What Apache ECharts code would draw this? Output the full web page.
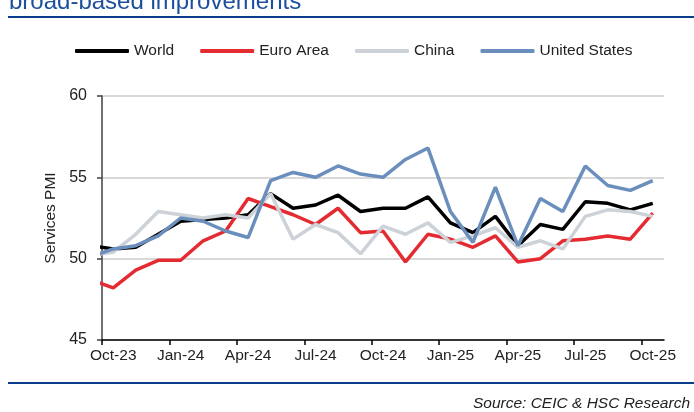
<!DOCTYPE html>
<html>
<head>
<meta charset="utf-8">
<script src="https://cdn.jsdelivr.net/npm/echarts@6/dist/echarts.min.js"></script>
<style>
  html, body { margin: 0; padding: 0; background: #fff; }
  #chart { width: 694px; height: 412px; }
</style>
</head>
<body>
<div id="chart"></div>
<script>
// monthly, Sep-23 is only partly visible (clipped at the axis start)
var months = ['Sep-23', 'Oct-23', 'Nov-23', 'Dec-23', 'Jan-24', 'Feb-24', 'Mar-24', 'Apr-24', 'May-24',
  'Jun-24', 'Jul-24', 'Aug-24', 'Sep-24', 'Oct-24', 'Nov-24', 'Dec-24', 'Jan-25', 'Feb-25', 'Mar-25',
  'Apr-25', 'May-25', 'Jun-25', 'Jul-25', 'Aug-25', 'Sep-25', 'Oct-25'];
var world = [50.8, 50.6, 50.7, 51.5, 52.3, 52.4, 52.5, 52.7, 54.0, 53.1, 53.3, 53.9, 52.9, 53.1, 53.1, 53.8, 52.2, 51.6, 52.6, 50.8, 52.1, 51.8, 53.5, 53.4, 53.0, 53.4];
var euroArea = [48.7, 48.2, 49.3, 49.9, 49.9, 51.1, 51.7, 53.7, 53.2, 52.7, 52.1, 53.1, 51.6, 51.7, 49.8, 51.5, 51.2, 50.7, 51.4, 49.8, 50.0, 51.1, 51.2, 51.4, 51.2, 52.8];
var china = [50.2, 50.4, 51.5, 52.9, 52.7, 52.5, 52.7, 52.5, 54.0, 51.2, 52.1, 51.6, 50.3, 52.0, 51.5, 52.2, 51.0, 51.4, 51.9, 50.7, 51.1, 50.6, 52.6, 53.0, 52.9, 52.6];
var unitedStates = [50.1, 50.6, 50.8, 51.4, 52.5, 52.3, 51.7, 51.3, 54.8, 55.3, 55.0, 55.7, 55.2, 55.0, 56.1, 56.8, 52.9, 51.0, 54.4, 50.8, 53.7, 52.9, 55.7, 54.5, 54.2, 54.8];
var tickLabels = ['Oct-23', 'Jan-24', 'Apr-24', 'Jul-24', 'Oct-24', 'Jan-25', 'Apr-25', 'Jul-25', 'Oct-25'];

var FONT = '"Liberation Sans", Arial, sans-serif';

// each month sits in the middle of its band: month i -> i - 0.5
function toPoints(arr) {
  return arr.map(function (v, i) { return [i - 0.5, v]; });
}
var labelPos = tickLabels.map(function (m) { return months.indexOf(m) - 0.5; });
var tickPos = labelPos.map(function (p) { return p - 0.5; });

function line(name, data, color) {
  return {
    name: name,
    type: 'line',
    data: toPoints(data),
    symbol: 'none',
    clip: true,
    lineStyle: { color: color, width: 3.5 },
    itemStyle: { color: color },
    emphasis: { disabled: true }
  };
}

var chart = echarts.init(document.getElementById('chart'));
chart.setOption({
  animation: false,
  textStyle: { fontFamily: FONT },
  grid: { left: 102, top: 96, width: 562, height: 244 },
  legend: {
    left: 70,
    top: 38,
    icon: 'roundRect',
    itemWidth: 54,
    itemHeight: 4,
    itemGap: 26,
    textStyle: { fontSize: 15.5, color: '#222', fontFamily: FONT },
    data: ['World', 'Euro Area', 'China', 'United States']
  },
  xAxis: {
    type: 'value',
    min: 0,
    max: months.length - 1,
    axisLine: { lineStyle: { color: '#000', width: 1.5 } },
    axisTick: { customValues: tickPos, length: 5, lineStyle: { color: '#000', width: 1.5 } },
    axisLabel: {
      customValues: labelPos,
      formatter: function (v) { return months[Math.round(v + 0.5)]; },
      fontSize: 15.5,
      color: '#222',
      margin: 8
    },
    splitLine: { show: false }
  },
  yAxis: {
    type: 'value',
    min: 45,
    max: 60,
    interval: 5,
    name: 'Services PMI',
    nameLocation: 'middle',
    nameGap: 42,
    nameTextStyle: { fontSize: 15.5, color: '#222' },
    axisLine: { show: true, lineStyle: { color: '#404040', width: 1.5 } },
    axisTick: { show: true, length: 5, lineStyle: { color: '#404040', width: 1.5 } },
    axisLabel: { fontSize: 16, color: '#222', margin: 15 },
    splitLine: { lineStyle: { color: '#d9d9d9', width: 2 } }
  },
  series: [
    line('World', world, '#000000'),
    line('Euro Area', euroArea, '#e52b32'),
    line('China', china, '#cdd2d8'),
    line('United States', unitedStates, '#6b8fbd')
  ],
  graphic: [
    { type: 'text', left: 9, top: -10,
      style: { text: 'broad-based improvements', font: '24px ' + FONT, fill: '#1d4f9c' } },
    { type: 'rect', shape: { x: 8, y: 16, width: 686, height: 2 }, style: { fill: '#0b3d8c' } },
    { type: 'rect', shape: { x: 8, y: 382, width: 686, height: 2 }, style: { fill: '#0b3d8c' } },
    { type: 'text', right: 4, top: 396,
      style: { text: 'Source: CEIC & HSC Research', font: 'italic 15.5px ' + FONT, fill: '#222' } }
  ]
});
</script>
</body>
</html>
